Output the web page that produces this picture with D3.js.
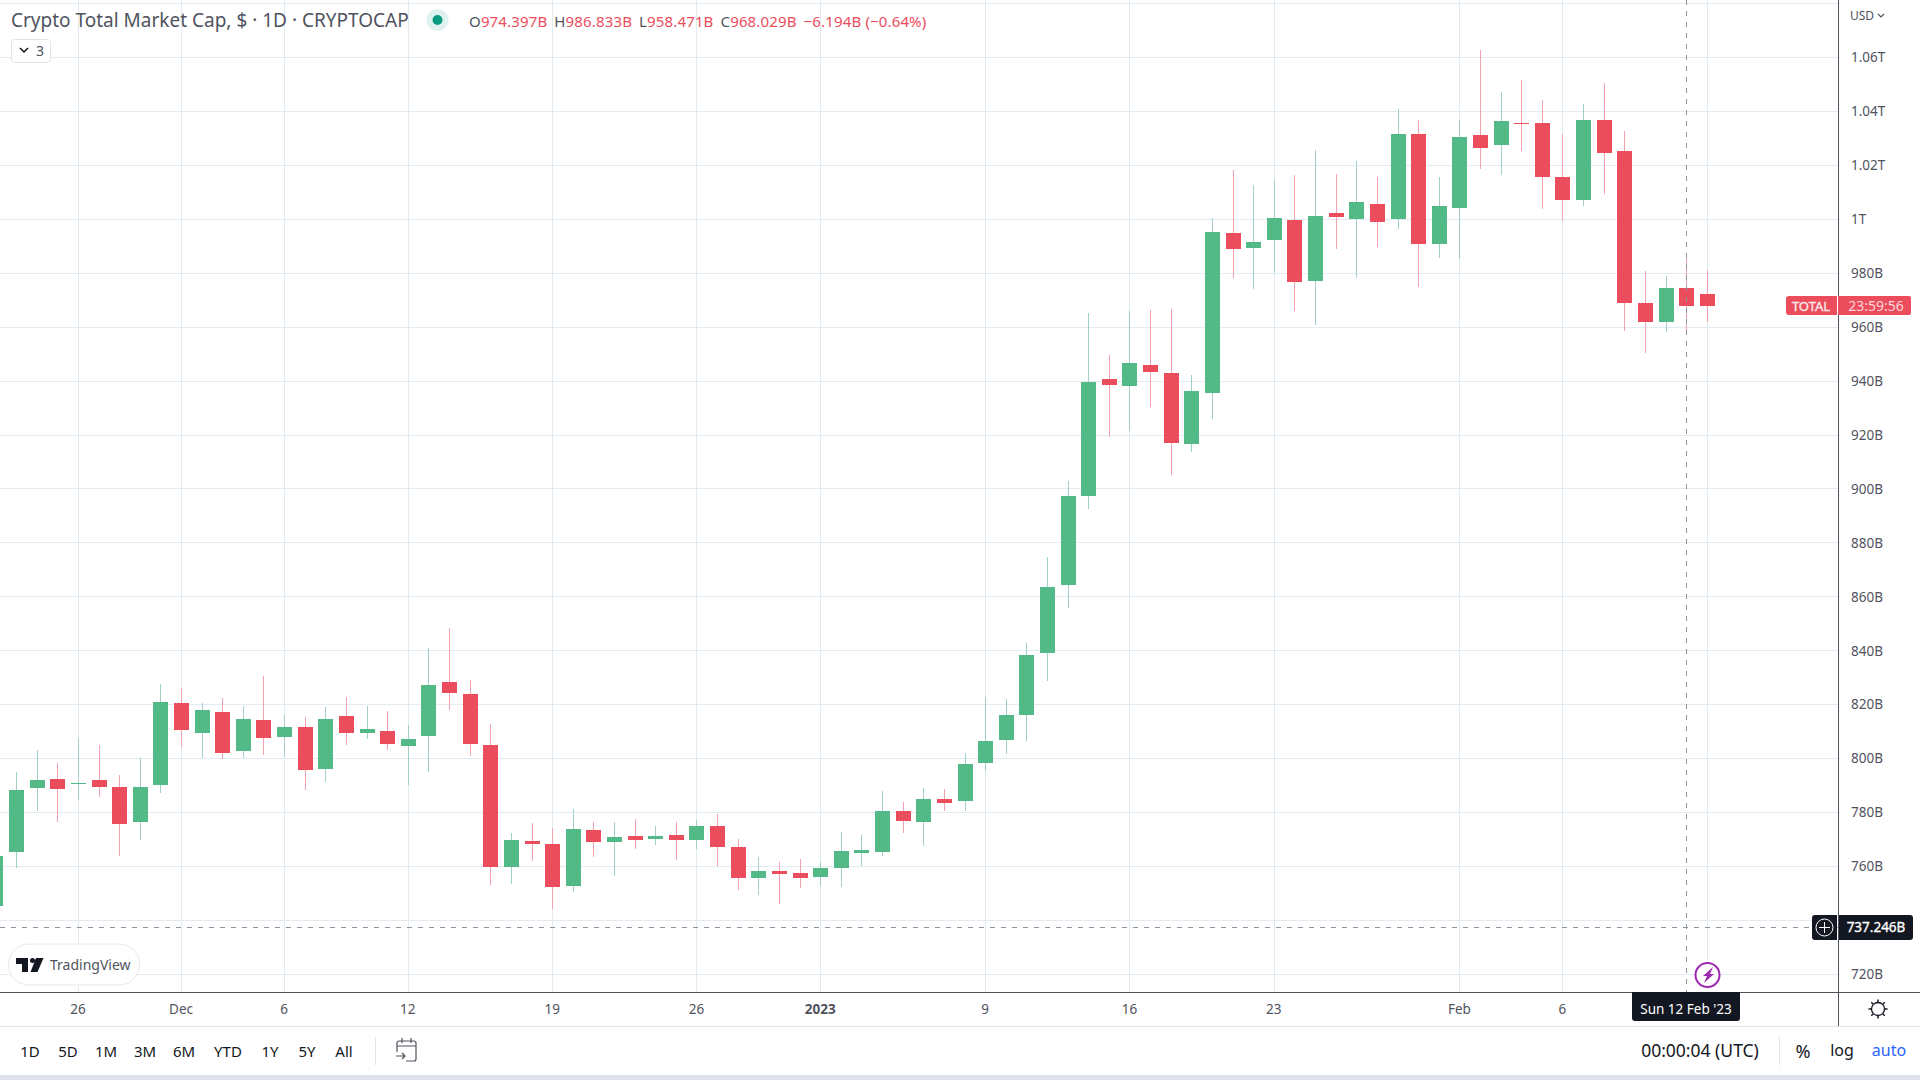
<!DOCTYPE html>
<html>
<head>
<meta charset="utf-8">
<title>Crypto Total Market Cap</title>
<script src="https://cdn.jsdelivr.net/npm/d3@7"></script>
<style>
html, body { margin: 0; padding: 0; background: #fff; overflow: hidden; }
text { font-family: "Noto Sans", sans-serif; }
</style>
</head>
<body>
<script>
// daily candles, 22 Nov 2022 to 13 Feb 2023, values in billions
var firstDay = "2022-11-22";
var opens = [745.3,765.3,789.0,792.3,790.5,792.0,789.4,776.4,790.1,820.5,809.4,817.2,802.7,814.2,807.9,811.6,796.0,815.7,809.4,810.1,804.6,808.3,828.3,823.8,804.9,
  759.8,769.4,768.3,752.7,773.5,769.0,771.2,770.1,771.6,769.8,774.9,767.2,755.7,758.3,757.5,756.0,759.4,764.9,765.3,780.5,776.4,784.9,784.2,
  798.3,807.0,816.0,839.0,864.2,897.5,940.9,938.3,946.0,943.1,916.8,935.7,
  994.9,989.4,992.3,999.8,977.2,1002.3,1000.1,1005.7,1000.1,1031.6,990.9,1004.2,1031.2,1027.5,1035.7,1035.7,1015.7,1007.2,1036.8,1025.3,969.0,962.0,974.4,972.3];
var highs = [766.0,794.9,803.1,798.3,807.5,804.9,793.8,800.1,827.5,826.0,820.5,822.3,819.4,830.5,816.0,815.3,819.0,822.7,819.4,817.5,812.3,840.9,848.3,829.0,812.7,
  772.3,776.0,774.2,781.2,776.4,776.4,777.5,774.9,776.4,777.2,779.4,770.1,763.5,761.6,762.7,761.6,772.7,771.6,787.9,783.8,789.0,788.6,802.0,
  822.7,822.0,842.7,874.6,903.1,965.3,949.8,966.0,966.4,966.8,942.3,1000.5,
  1018.3,1012.7,1014.6,1016.4,1025.7,1016.8,1021.6,1015.7,1040.9,1036.8,1015.7,1036.8,1062.7,1047.2,1051.6,1044.2,1031.6,1042.7,1050.5,1032.7,980.9,979.0,986.8,981.2];
var lows = [743.0,759.4,780.5,776.4,784.6,785.7,763.8,769.8,787.2,804.2,800.1,799.8,800.1,801.2,800.5,788.3,791.2,804.9,807.2,803.1,790.1,794.9,817.9,800.9,753.1,
  753.5,762.0,744.2,750.5,763.5,756.4,766.4,767.9,762.3,766.4,760.1,751.2,749.4,746.0,752.0,752.7,752.3,760.1,763.8,772.3,767.5,780.5,780.5,
  795.3,801.8,806.4,828.6,856.0,892.7,919.4,921.6,930.5,905.3,913.8,926.0,
  978.3,974.2,980.0,966.0,960.9,989.0,978.3,989.8,996.4,974.9,985.7,985.3,1018.6,1016.4,1025.3,1003.8,999.4,1004.9,1009.4,958.6,950.5,958.3,958.5,962.0];
var closes = [763.9,788.3,792.0,788.6,790.9,789.4,775.7,789.4,820.9,810.5,817.9,802.0,814.6,807.5,811.6,795.7,814.6,809.4,810.9,805.3,807.2,827.2,824.2,805.3,759.8,
  769.8,768.3,752.3,773.8,769.0,770.9,769.8,771.2,769.8,774.9,767.2,755.7,758.3,757.2,755.7,759.4,765.7,766.0,780.5,776.8,784.9,783.5,797.9,
  806.4,816.2,838.3,863.8,897.2,939.8,938.6,946.8,943.5,917.2,936.4,995.3,
  989.0,991.6,1000.5,976.8,1001.2,1000.9,1006.4,999.0,1031.6,990.9,1004.9,1030.5,1026.4,1036.4,1035.3,1015.7,1007.2,1036.8,1024.6,969.0,962.0,974.6,968.0,967.9];

var priceTicks = [720,760,780,800,820,840,860,880,900,920,940,960,980,1000,1020,1040,1060];
var priceLabels = ["720B","760B","780B","800B","820B","840B","860B","880B","900B","920B","940B","960B","980B","1T","1.02T","1.04T","1.06T"];
var priceGrid = [720,740,760,780,800,820,840,860,880,900,920,940,960,980,1000,1020,1040,1060,1080];

var timeTicks = ["2022-11-26","2022-12-01","2022-12-06","2022-12-12","2022-12-19","2022-12-26","2023-01-01","2023-01-09","2023-01-16","2023-01-23","2023-02-01","2023-02-06"];
var timeLabels = ["26","Dec","6","12","19","26","2023","9","16","23","Feb","6"];
var timeGrid = timeTicks.concat(["2023-02-13"]);

var rangeButtons = ["1D","5D","1M","3M","6M","YTD","1Y","5Y","All"];
var rangeCenters = [30,68,106,145,184,228,270,307,344];

var legendValues = ["974.397B","986.833B","958.471B","968.029B"];
var legendKeys = ["O","H","L","C"];

var paneRight = 1838, paneBottom = 992, axisBottom = 1026, barBottom = 1075;
var upColor = "#53b987", downColor = "#eb4d5c", upWick = "#a3cfca", downWick = "#f7a0ae";
var gridColor = "#e1ecf2", lineColor = "#50535e", textColor = "#50535e", darkBox = "#131722";

var parseDay = d3.utcParse("%Y-%m-%d");
var days = opens.map((d, i) => d3.utcDay.offset(parseDay(firstDay), i));

var x = d3.scaleUtc()
    .domain([parseDay("2022-11-26"), parseDay("2023-02-13")])
    .range([78.4, 1707.3]);

var y = d3.scaleLinear()
    .domain([720, 1060])
    .range([974.3, 57.5]);

var svg = d3.select("body").append("svg")
    .attr("width", 1920)
    .attr("height", 1080)
    .style("display", "block");

var pane = svg.append("g").attr("shape-rendering", "crispEdges");

// grid
pane.selectAll(".hgrid").data(priceGrid).enter().append("rect")
    .attr("x", 0)
    .attr("width", paneRight)
    .attr("y", (d) => Math.floor(y(d)))
    .attr("height", 1)
    .attr("fill", gridColor);

pane.selectAll(".vgrid").data(timeGrid).enter().append("rect")
    .attr("x", (d) => Math.floor(x(parseDay(d))))
    .attr("width", 1)
    .attr("y", 0)
    .attr("height", paneBottom)
    .attr("fill", gridColor);

// candles
var candles = pane.selectAll(".candle").data(days).enter().append("g").attr("class", "candle");

candles.append("rect")
    .attr("x", (d) => Math.floor(x(d)))
    .attr("width", 1)
    .attr("y", (d, i) => Math.round(y(highs[i])))
    .attr("height", (d, i) => Math.round(y(lows[i])) - Math.round(y(highs[i])))
    .attr("fill", (d, i) => closes[i] >= opens[i] ? upWick : downWick);

candles.append("rect")
    .attr("x", (d) => Math.floor(x(d)) - 7)
    .attr("width", 15)
    .attr("y", (d, i) => Math.round(y(Math.max(opens[i], closes[i]))))
    .attr("height", (d, i) => Math.max(1, Math.round(y(Math.min(opens[i], closes[i]))) - Math.round(y(Math.max(opens[i], closes[i])))))
    .attr("fill", (d, i) => closes[i] >= opens[i] ? upColor : downColor);

// crosshair
var crossX = Math.floor(x(parseDay("2023-02-12")));
var crossY = Math.floor(y(737.246));
svg.append("line")
    .attr("x1", crossX + 0.5).attr("x2", crossX + 0.5)
    .attr("y1", 0).attr("y2", paneBottom)
    .attr("stroke", "#8f929b").attr("stroke-dasharray", "5,6");
svg.append("line")
    .attr("x1", 0).attr("x2", paneRight)
    .attr("y1", crossY + 0.5).attr("y2", crossY + 0.5)
    .attr("stroke", "#8f929b").attr("stroke-dasharray", "5,6");

// price axis
var rightAxis = d3.axisRight(y)
    .tickValues(priceTicks)
    .tickSize(0)
    .tickPadding(13)
    .tickFormat((d, i) => priceLabels[i]);
var rightG = svg.append("g")
    .attr("transform", "translate(" + paneRight + ",0)")
    .call(rightAxis);
rightG.select(".domain").remove();
rightG.selectAll("text")
    .attr("font-size", "13.5px")
    .attr("fill", textColor);

// time axis
var timeAxis = d3.axisBottom(x)
    .tickValues(timeTicks.map(parseDay))
    .tickSize(0)
    .tickPadding(12)
    .tickFormat((d, i) => timeLabels[i]);
var timeG = svg.append("g")
    .attr("transform", "translate(-1," + paneBottom + ")")
    .call(timeAxis);
timeG.select(".domain").remove();
timeG.selectAll("text")
    .attr("font-size", "13.5px")
    .attr("fill", textColor)
    .attr("font-weight", (d, i) => timeLabels[i] == "2023" ? "bold" : "normal");

// frame lines
var frame = svg.append("g").attr("shape-rendering", "crispEdges");
frame.append("rect").attr("x", paneRight).attr("y", 0).attr("width", 1).attr("height", axisBottom).attr("fill", lineColor);
frame.append("rect").attr("x", 0).attr("y", paneBottom).attr("width", 1920).attr("height", 1).attr("fill", lineColor);
frame.append("rect").attr("x", 0).attr("y", axisBottom).attr("width", 1920).attr("height", 1).attr("fill", "#e0e3eb");
frame.append("rect").attr("x", 0).attr("y", barBottom).attr("width", 1920).attr("height", 5).attr("fill", "#e0e3eb");
frame.append("rect").attr("x", 375).attr("y", 1037).attr("width", 1).attr("height", 28).attr("fill", "#e0e3eb");
frame.append("rect").attr("x", 1779).attr("y", 1037).attr("width", 1).attr("height", 28).attr("fill", "#e0e3eb");

// header
svg.append("text")
    .attr("x", 11).attr("y", 27)
    .attr("font-size", "19px")
    .attr("fill", "#50535e")
    .text("Crypto Total Market Cap, $ · 1D · CRYPTOCAP");
svg.append("circle").attr("cx", 437.5).attr("cy", 20).attr("r", 11).attr("fill", "#e0f2ef");
svg.append("circle").attr("cx", 437.5).attr("cy", 20).attr("r", 5).attr("fill", "#089981");

var legend = svg.append("text").attr("x", 469).attr("y", 27).attr("font-size", "15px").attr("letter-spacing", "0.15px");
legendKeys.forEach((k, i) => {
    legend.append("tspan").attr("fill", "#50535e").attr("dx", i ? 7 : 0).text(k);
    legend.append("tspan").attr("fill", downColor).text(legendValues[i]);
});
legend.append("tspan").attr("fill", downColor).attr("dx", 7).text("−6.194B (−0.64%)");

svg.append("rect")
    .attr("x", 11.5).attr("y", 39.5).attr("width", 39).attr("height", 23).attr("rx", 3)
    .attr("fill", "#fff").attr("stroke", "#e0e3eb");
svg.append("path")
    .attr("d", "M20 48l4 4 4-4").attr("fill", "none").attr("stroke", "#131722").attr("stroke-width", 1.5);
svg.append("text").attr("x", 36).attr("y", 56).attr("font-size", "14px").attr("fill", "#50535e").text("3");

// currency
svg.append("text").attr("x", 1850).attr("y", 20).attr("font-size", "12px").attr("fill", textColor).text("USD");
svg.append("path")
    .attr("d", "M1878 14l3 3 3-3").attr("fill", "none").attr("stroke", textColor).attr("stroke-width", 1.2);

// TOTAL and countdown labels
svg.append("path")
    .attr("d", "M1837 296v19h-48a3 3 0 0 1-3-3v-13a3 3 0 0 1 3-3z")
    .attr("fill", downColor);
svg.append("text").attr("x", 1811).attr("y", 311).attr("text-anchor", "middle")
    .attr("font-size", "13px").attr("fill", "#fde8eb").attr("stroke", "#fde8eb").attr("stroke-width", 0.3).text("TOTAL");
svg.append("path")
    .attr("d", "M1838 296h71a2 2 0 0 1 2 2v15a2 2 0 0 1-2 2h-71z")
    .attr("fill", downColor);
svg.append("text").attr("x", 1876).attr("y", 311).attr("text-anchor", "middle")
    .attr("font-size", "14px").attr("fill", "#fbd5da").text("23:59:56");

// crosshair labels
svg.append("path")
    .attr("d", "M1837 915v25h-22a3 3 0 0 1-3-3v-19a3 3 0 0 1 3-3z")
    .attr("fill", darkBox);
svg.append("circle").attr("cx", 1824.5).attr("cy", 927.5).attr("r", 8.5)
    .attr("fill", "none").attr("stroke", "#fff");
svg.append("path")
    .attr("d", "M1824.5 922v11M1819 927.5h11").attr("stroke", "#fff");
svg.append("path")
    .attr("d", "M1839 915h71a3 3 0 0 1 3 3v19a3 3 0 0 1-3 3h-71z")
    .attr("fill", darkBox);
svg.append("text").attr("x", 1876).attr("y", 932).attr("text-anchor", "middle")
    .attr("font-size", "13.5px").attr("fill", "#fff").attr("stroke", "#fff").attr("stroke-width", 0.3).text("737.246B");

svg.append("path")
    .attr("d", "M1632 992h108v26a3 3 0 0 1-3 3h-102a3 3 0 0 1-3-3z")
    .attr("fill", darkBox);
svg.append("text").attr("x", 1686).attr("y", 1014).attr("text-anchor", "middle")
    .attr("font-size", "13.5px").attr("fill", "#fff").text("Sun 12 Feb '23");

// lightning mark
svg.append("circle").attr("cx", 1707.5).attr("cy", 975).attr("r", 12)
    .attr("fill", "#fff").attr("stroke", "#9c27b0").attr("stroke-width", 2);
svg.append("path")
    .attr("d", "M1713 967l-10 9h4l-3 7 10-9h-4z")
    .attr("fill", "#9c27b0");

// TradingView badge
svg.append("rect")
    .attr("x", 8.5).attr("y", 944).attr("width", 131).attr("height", 41).attr("rx", 20.5)
    .attr("fill", "#fff").attr("stroke", "#e7e8ec");
svg.append("path")
    .attr("d", "M16 958h12v14h-6v-8h-6z M36 958h7.5l-6 14h-7z")
    .attr("fill", "#131722");
svg.append("circle").attr("cx", 32.5).attr("cy", 960.5).attr("r", 2.5).attr("fill", "#131722");
svg.append("text").attr("x", 50).attr("y", 970).attr("font-size", "14px").attr("fill", "#50535e").text("TradingView");

// bottom bar
svg.selectAll(".range").data(rangeButtons).enter().append("text")
    .attr("x", (d, i) => rangeCenters[i])
    .attr("y", 1056.5)
    .attr("text-anchor", "middle")
    .attr("font-size", "15px")
    .attr("fill", "#131722")
    .text((d) => d);

var cal = svg.append("g").attr("transform", "translate(0,1)").attr("fill", "none").attr("stroke", "#50535e").attr("stroke-width", 1.2);
cal.append("path").attr("d", "M397 1051v-9a2 2 0 0 1 2-2h15a2 2 0 0 1 2 2v16a2 2 0 0 1-2 2h-8");
cal.append("path").attr("d", "M397 1045h19M402 1037v5M411 1037v5M396 1055h9M402 1052l3 3-3 3");

svg.append("text").attr("x", 1700).attr("y", 1057).attr("text-anchor", "middle")
    .attr("font-size", "17.5px").attr("fill", "#131722").text("00:00:04 (UTC)");
svg.append("text").attr("x", 1803).attr("y", 1058).attr("text-anchor", "middle")
    .attr("font-size", "18px").attr("fill", "#131722").text("%");
svg.append("text").attr("x", 1842).attr("y", 1056).attr("text-anchor", "middle")
    .attr("font-size", "16px").attr("fill", "#131722").text("log");
svg.append("text").attr("x", 1889).attr("y", 1056).attr("text-anchor", "middle")
    .attr("font-size", "16px").attr("fill", "#2962ff").text("auto");

// settings gear
var gear = svg.append("g").attr("transform", "translate(1878,1009)").attr("stroke", "#131722").attr("fill", "none");
gear.append("circle").attr("r", 6.5).attr("stroke-width", 1.3);
d3.range(8).forEach((k) => {
    gear.append("line")
        .attr("y1", -7).attr("y2", -9.5)
        .attr("stroke-width", 1.5)
        .attr("transform", "rotate(" + k * 45 + ")");
});
</script>
</body>
</html>
